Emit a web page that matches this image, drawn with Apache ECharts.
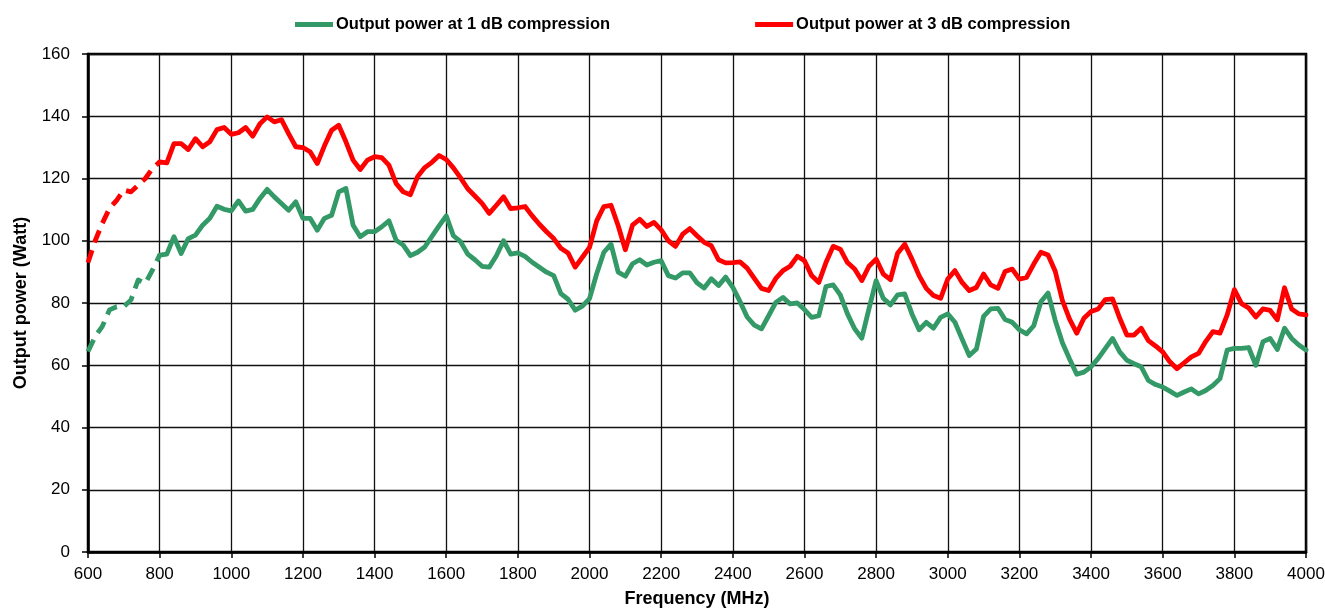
<!DOCTYPE html>
<html>
<head>
<meta charset="utf-8">
<script src="https://cdn.jsdelivr.net/npm/echarts@6/dist/echarts.min.js"></script>
<style>
  html, body { margin: 0; padding: 0; background: #fff; }
  #chart { width: 1325px; height: 611px; }
</style>
</head>
<body>
<div id="chart"></div>
<script>
// measurement frequencies (MHz), one point every 20 MHz
const frequencies = [
  600, 620, 640, 660, 680, 700, 720, 740, 760, 780,
  800, 820, 840, 860, 880, 900, 920, 940, 960, 980,
  1000, 1020, 1040, 1060, 1080, 1100, 1120, 1140, 1160, 1180,
  1200, 1220, 1240, 1260, 1280, 1300, 1320, 1340, 1360, 1380,
  1400, 1420, 1440, 1460, 1480, 1500, 1520, 1540, 1560, 1580,
  1600, 1620, 1640, 1660, 1680, 1700, 1720, 1740, 1760, 1780,
  1800, 1820, 1840, 1860, 1880, 1900, 1920, 1940, 1960, 1980,
  2000, 2020, 2040, 2060, 2080, 2100, 2120, 2140, 2160, 2180,
  2200, 2220, 2240, 2260, 2280, 2300, 2320, 2340, 2360, 2380,
  2400, 2420, 2440, 2460, 2480, 2500, 2520, 2540, 2560, 2580,
  2600, 2620, 2640, 2660, 2680, 2700, 2720, 2740, 2760, 2780,
  2800, 2820, 2840, 2860, 2880, 2900, 2920, 2940, 2960, 2980,
  3000, 3020, 3040, 3060, 3080, 3100, 3120, 3140, 3160, 3180,
  3200, 3220, 3240, 3260, 3280, 3300, 3320, 3340, 3360, 3380,
  3400, 3420, 3440, 3460, 3480, 3500, 3520, 3540, 3560, 3580,
  3600, 3620, 3640, 3660, 3680, 3700, 3720, 3740, 3760, 3780,
  3800, 3820, 3840, 3860, 3880, 3900, 3920, 3940, 3960, 3980,
  4000
]

// Output power at 1 dB compression (W)
const power1dB = [
  64.4, 69.2, 72.5, 77.8, 78.8, 78.8, 81, 87.4, 86.3, 90.6,
  95.4, 95.7, 101.3, 95.9, 100.7, 101.8, 105, 107.2, 111.1, 110.1,
  109.6, 112.8, 109.5, 110.1, 113.6, 116.5, 114.1, 112, 109.8, 112.5,
  107.2, 107.2, 103.4, 107.2, 108.2, 115.7, 116.8, 105, 101.3, 102.9,
  102.9, 104.5, 106.4, 100.2, 98.6, 95.2, 96.3, 98, 101.4, 104.8,
  108, 101.6, 99.7, 95.7, 93.9, 91.8, 91.5, 95.2, 100, 95.7,
  96.1, 95, 93.1, 91.5, 89.9, 88.8, 83, 81.2, 77.7, 79,
  81.4, 89.4, 96.3, 98.9, 89.9, 88.6, 92.6, 93.9, 92.2, 93.1,
  93.6, 88.8, 88, 89.7, 89.7, 86.5, 84.8, 87.8, 85.6, 88.3,
  85, 80.5, 75.5, 72.9, 71.7, 75.9, 80.2, 81.8, 79.7, 80,
  77.9, 75.4, 75.9, 85.3, 85.8, 82.6, 76.5, 71.7, 68.7, 78.1,
  87.2, 81.5, 79.4, 82.6, 82.9, 76.5, 71.4, 73.8, 71.9, 75.4,
  76.5, 73.8, 68.4, 63.1, 65.2, 75.7, 78.1, 78.3, 74.7, 73.8,
  71.4, 70.1, 72.7, 80.4, 83.2, 74.4, 67.2, 62, 57.1, 57.8,
  59.5, 62.2, 65.4, 68.6, 64.3, 61.6, 60.5, 59.5, 55.1, 53.8,
  53, 51.7, 50.3, 51.4, 52.4, 50.8, 51.9, 53.5, 55.7, 64.9,
  65.4, 65.4, 65.7, 60, 67.6, 68.6, 65.1, 71.9, 68.6, 66.5,
  64.9
]

// Output power at 3 dB compression (W)
const power3dB = [
  93, 100, 105.6, 110.4, 113, 116.3, 115.7, 117.9, 120, 123.2,
  125.3, 125, 131.2, 131.2, 129.3, 132.8, 130.2, 131.8, 135.7, 136.4,
  134.2, 134.7, 136.4, 133.6, 137.6, 139.8, 138.2, 138.9, 134.4, 130.2,
  129.9, 128.6, 124.8, 130.5, 135.5, 137.1, 131.8, 125.9, 122.9, 125.9,
  127, 126.7, 124.3, 118.4, 115.7, 114.8, 120.6, 123.5, 125.2, 127.4,
  126.1, 123.4, 120.2, 116.7, 114.4, 112, 108.8, 111.4, 114.1, 110.3,
  110.6, 111, 108, 105.3, 102.9, 100.7, 97.6, 96.1, 91.5, 94.7,
  97.9, 106.4, 111, 111.4, 104.8, 97.1, 105, 106.9, 104.6, 105.9,
  103.5, 100, 98.2, 102.1, 103.9, 101.6, 99.5, 98.4, 93.9, 92.9,
  93, 93.2, 91.2, 87.9, 84.7, 84, 87.9, 90.4, 91.8, 95,
  93.6, 88.8, 86.6, 93, 98.2, 97.3, 93, 90.9, 87.2, 91.8,
  94.1, 89.3, 87.5, 96, 98.9, 94.1, 88.8, 84.7, 82.4, 81.5,
  87.7, 90.4, 86.6, 84, 85, 89.3, 85.8, 84.7, 90.1, 90.9,
  87.7, 88.2, 92.5, 96.3, 95.4, 90.2, 80.8, 74.8, 70.3, 75.1,
  77.3, 78.1, 81.1, 81.3, 75.1, 69.7, 69.7, 71.9, 67.9, 66.2,
  64.3, 61.1, 58.9, 60.8, 62.7, 63.8, 67.6, 70.8, 70.3, 76.2,
  84.3, 79.8, 78.4, 75.5, 78.1, 77.6, 74.6, 84.9, 78.1, 76.5,
  76.2
]

// below this frequency the curves are drawn dashed
const dashedUntil = 800

const seriesNames = ['Output power at 1 dB compression', 'Output power at 3 dB compression']
const seriesColors = ['#339966', '#ff0000']

const font = 'Liberation Sans, Arial, sans-serif'

const pairs = (values) => frequencies.map((f, i) => [f, values[i]])
const dashedPart = (values) => pairs(values).filter((p) => p[0] <= dashedUntil)
const solidPart = (values) => pairs(values).filter((p) => p[0] >= dashedUntil)

const lineSeries = (name, color, data, dashed) => ({
  name,
  type: 'line',
  data,
  symbol: 'none',
  color,
  silent: true,
  animation: false,
  lineStyle: {
    width: 4.8,
    color,
    type: dashed ? [13, 8] : 'solid',
    cap: dashed ? 'butt' : 'round',
    join: 'round',
  },
})

const allSeries = [power1dB, power3dB].flatMap((values, i) => [
  lineSeries(seriesNames[i], seriesColors[i], solidPart(values), false),
  lineSeries(seriesNames[i] + ' (dashed)', seriesColors[i], dashedPart(values), true),
])

const chart = echarts.init(document.getElementById('chart'), null, { renderer: 'canvas' })

chart.setOption({
  animation: false,
  backgroundColor: '#fff',
  textStyle: { fontFamily: font },
  legend: {
    data: seriesNames,
    left: 290,
    top: 11,
    itemGap: 145,
    itemWidth: 38,
    itemHeight: 5,
    icon: 'rect',
    selectedMode: false,
    textStyle: {
      fontFamily: font,
      fontSize: 16.5,
      fontWeight: 'bold',
      color: '#000',
      padding: [0, 0, 0, -2],
    },
  },
  grid: {
    left: 88,
    right: 19,
    top: 54,
    bottom: 59,
    containLabel: false,
    outerBoundsMode: 'none',
    show: true,
    borderColor: '#000',
    borderWidth: 2.5,
  },
  xAxis: {
    type: 'value',
    min: 600,
    max: 4000,
    interval: 200,
    name: 'Frequency (MHz)',
    nameLocation: 'middle',
    nameGap: 38,
    nameTextStyle: { fontFamily: font, fontSize: 18, fontWeight: 'bold', color: '#000' },
    axisLine: { show: true, onZero: false, lineStyle: { color: '#000', width: 2.5 } },
    axisTick: { show: true, length: 6, lineStyle: { color: '#000', width: 1.5 } },
    axisLabel: { fontFamily: font, fontSize: 17, color: '#000', margin: 14, formatter: (v) => String(v) },
    splitLine: { show: true, lineStyle: { color: '#111', width: 1.3 } },
  },
  yAxis: {
    type: 'value',
    min: 0,
    max: 160,
    interval: 20,
    name: 'Output power (Watt)',
    nameLocation: 'middle',
    nameGap: 58,
    nameTextStyle: { fontFamily: font, fontSize: 18, fontWeight: 'bold', color: '#000' },
    axisLine: { show: true, lineStyle: { color: '#000', width: 2.5 } },
    axisTick: { show: true, length: 6, lineStyle: { color: '#000', width: 1.5 } },
    axisLabel: { fontFamily: font, fontSize: 17, color: '#000', margin: 18, formatter: (v) => String(v) },
    splitLine: { show: true, lineStyle: { color: '#111', width: 1.3 } },
  },
  series: allSeries,
})
</script>
</body>
</html>
